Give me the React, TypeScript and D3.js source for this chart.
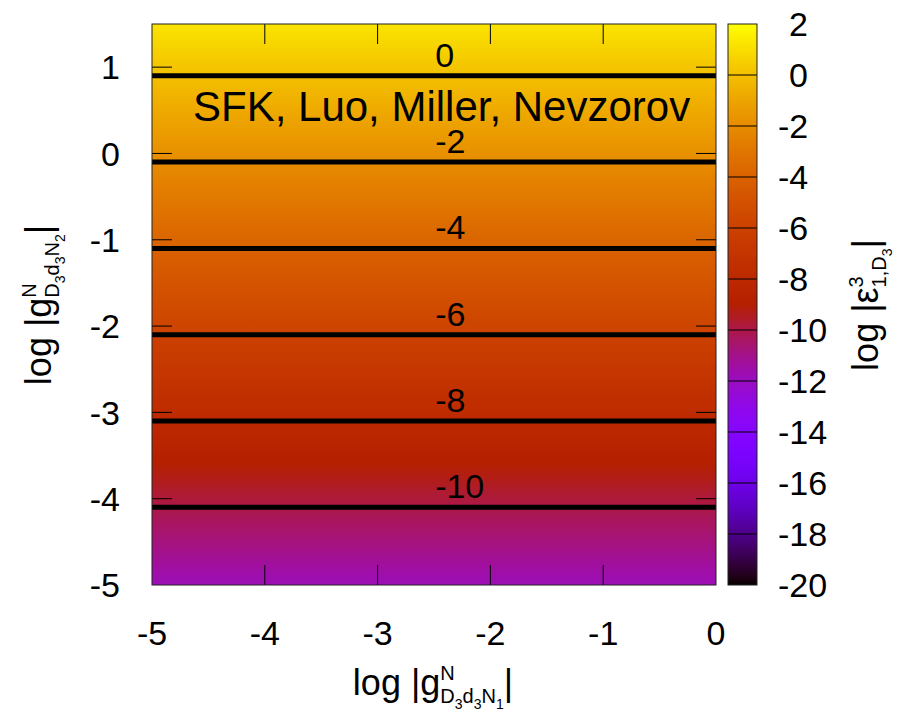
import React from 'react';
import * as d3 from 'd3';

const xTicks = [-5, -4, -3, -2, -1, 0];
const yTicks = [-5, -4, -3, -2, -1, 0, 1];
const cbTicks = [2, 0, -2, -4, -6, -8, -10, -12, -14, -16, -18, -20];
const rowLogY = [1.5, 1, 0.5, 0, -0.5, -1, -1.5, -2, -2.5, -3, -3.5, -4, -4.5, -5];
const rowValue = [1.2, 0.2, -0.8, -1.8, -2.8, -3.8, -4.8, -5.8, -6.8, -7.8, -8.8, -9.8, -10.8, -11.8];
const contourLevels = [0, -2, -4, -6, -8, -10];
const contourLabelX = -2.49;
const annotation = 'SFK, Luo, Miller, Nevzorov';

const W = 907, H = 711;
const PL = 152, PR = 716, PT = 24, PB = 585;
const CBL = 728, CBR = 757;
const FONT = '"Liberation Sans", Arial, Helvetica, sans-serif';

function palette(t: number): string {
  const c = Math.max(0, Math.min(1, t));
  const r = Math.sqrt(c);
  const g = c * c * c;
  const b = Math.max(0, Math.min(1, Math.sin(2 * Math.PI * c)));
  return d3.rgb(r * 255, g * 255, b * 255).formatHex();
}

type Part = { t: string; size: number; dy?: number; dx?: number };

function RichText({ parts }: { parts: Part[] }) {
  return (
    <>
      {parts.map((p, i) => (
        <tspan key={i} fontSize={p.size} dy={p.dy ?? 0} dx={p.dx ?? 0}>{p.t}</tspan>
      ))}
    </>
  );
}

export default function App() {
  const x = d3.scaleLinear().domain([-5, 0]).range([PL, PR]);
  const y = d3.scaleLinear().domain([-5, 1.5]).range([PB, PT]);
  const cb = d3.scaleLinear().domain([-20, 2]).range([PB, PT]);
  const norm = d3.scaleLinear().domain([-20, 2]).range([0, 1]);
  const valueAt = d3.scaleLinear().domain(rowLogY).range(rowValue);
  const logYAt = d3.scaleLinear().domain(rowValue).range(rowLogY);

  const N = 120;
  const plotStops = d3.range(N + 1).map((i) => {
    const py = PT + (i / N) * (PB - PT);
    const v = valueAt(y.invert(py));
    return { off: i / N, col: palette(norm(v)) };
  });
  const cbStops = d3.range(N + 1).map((i) => {
    const py = PT + (i / N) * (PB - PT);
    const v = cb.invert(py);
    return { off: i / N, col: palette(norm(v)) };
  });

  const tickLen = 20;
  const big = 34;
  const lab = 36;

  const xLabel: Part[] = [
    { t: 'log |g', size: lab },
    { t: 'N', size: 20, dy: -15 },
    { t: 'D', size: 20, dy: 23, dx: -14.4 },
    { t: '3', size: 14, dy: 6 },
    { t: 'd', size: 20, dy: -6 },
    { t: '3', size: 14, dy: 6 },
    { t: 'N', size: 20, dy: -6 },
    { t: '1', size: 14, dy: 6 },
    { t: '|', size: lab, dy: -14 },
  ];
  const yLabel: Part[] = [
    { t: 'log |g', size: lab },
    { t: 'N', size: 20, dy: -15 },
    { t: 'D', size: 20, dy: 23, dx: -14.4 },
    { t: '3', size: 14, dy: 6 },
    { t: 'd', size: 20, dy: -6 },
    { t: '3', size: 14, dy: 6 },
    { t: 'N', size: 20, dy: -6 },
    { t: '2', size: 14, dy: 6 },
    { t: '|', size: lab, dy: -14 },
  ];
  const cbLabel: Part[] = [
    { t: 'log |ε', size: lab },
    { t: '3', size: 20, dy: -15 },
    { t: '1,D', size: 20, dy: 23, dx: -11.1 },
    { t: '3', size: 14, dy: 6 },
    { t: '|', size: lab, dy: -14 },
  ];

  return (
    <svg width={W} height={H} style={{ position: 'absolute', left: 0, top: 0, background: '#fff' }} fontFamily={FONT}>
      <defs>
        <linearGradient id="plotGrad" gradientUnits="userSpaceOnUse" x1={0} y1={PT} x2={0} y2={PB}>
          {plotStops.map((s, i) => <stop key={i} offset={s.off} stopColor={s.col} />)}
        </linearGradient>
        <linearGradient id="cbGrad" gradientUnits="userSpaceOnUse" x1={0} y1={PT} x2={0} y2={PB}>
          {cbStops.map((s, i) => <stop key={i} offset={s.off} stopColor={s.col} />)}
        </linearGradient>
      </defs>

      {/* heatmap */}
      <rect x={PL} y={PT} width={PR - PL} height={PB - PT} fill="url(#plotGrad)" />

      {/* contours */}
      {contourLevels.map((lv) => {
        const yy = y(logYAt(lv));
        return (
          <g key={lv}>
            <line x1={PL} x2={PR} y1={yy} y2={yy} stroke="#000" strokeWidth={5} />
            <text x={x(contourLabelX)} y={yy - 9} fontSize={big} fill="#000">{String(lv)}</text>
          </g>
        );
      })}

      {/* ticks */}
      {xTicks.slice(1, -1).map((t) => (
        <g key={'xt' + t} stroke="#000" strokeWidth={1}>
          <line x1={x(t)} x2={x(t)} y1={PB} y2={PB - tickLen} />
          <line x1={x(t)} x2={x(t)} y1={PT} y2={PT + tickLen} />
        </g>
      ))}
      {yTicks.slice(1).map((t) => (
        <g key={'yt' + t} stroke="#000" strokeWidth={1}>
          <line x1={PL} x2={PL + tickLen} y1={y(t)} y2={y(t)} />
          <line x1={PR} x2={PR - tickLen} y1={y(t)} y2={y(t)} />
        </g>
      ))}
      <rect x={PL} y={PT} width={PR - PL} height={PB - PT} fill="none" stroke="#222" strokeWidth={1} />

      {/* annotation */}
      <text x={193} y={121} fontSize={42} fill="#000">{annotation}</text>

      {/* x tick labels */}
      {xTicks.map((t) => (
        <text key={'xl' + t} x={x(t)} y={645} fontSize={big} textAnchor="middle" fill="#000">{String(t)}</text>
      ))}
      {/* y tick labels */}
      {yTicks.map((t) => (
        <text key={'yl' + t} x={120} y={y(t)} dy="0.36em" fontSize={big} textAnchor="end" fill="#000">{String(t)}</text>
      ))}

      {/* colorbar */}
      <rect x={CBL} y={PT} width={CBR - CBL} height={PB - PT} fill="url(#cbGrad)" />
      {cbTicks.slice(1, -1).map((t) => (
        <line key={'cbt' + t} x1={CBL} x2={CBR} y1={cb(t)} y2={cb(t)} stroke="#000" strokeWidth={1} />
      ))}
      <rect x={CBL} y={PT} width={CBR - CBL} height={PB - PT} fill="none" stroke="#222" strokeWidth={1} />
      {cbTicks.map((t) => (
        <text key={'cbl' + t} x={778} dx={t >= 0 ? 11 : 0} y={cb(t)} dy="0.36em" fontSize={big} fill="#000">{String(t)}</text>
      ))}

      {/* axis labels */}
      <text x={433} y={695} textAnchor="middle" fill="#000"><RichText parts={xLabel} /></text>
      <text transform={`translate(51,305) rotate(-90)`} textAnchor="middle" fill="#000"><RichText parts={yLabel} /></text>
      <text transform={`translate(878,305) rotate(-90)`} textAnchor="middle" fill="#000"><RichText parts={cbLabel} /></text>
    </svg>
  );
}
